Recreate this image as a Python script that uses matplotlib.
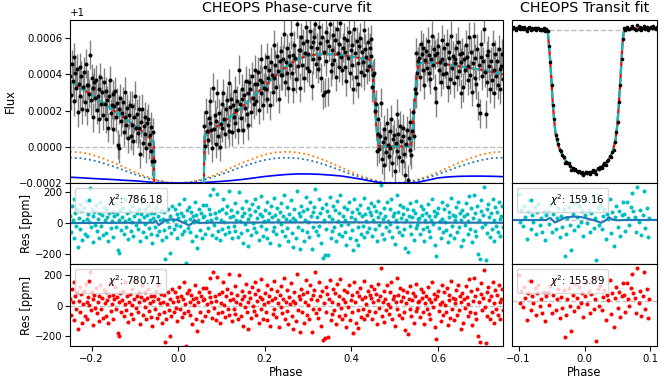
import numpy as np
import matplotlib
matplotlib.use("Agg")
import matplotlib.pyplot as plt

# ---- observed points: phase (x1e-4), flux - 1 (ppm), residuals (ppm) ----
phase_e4 = [
    # before transit
    -2497, -2478, -2457, -2438, -2418, -2399, -2377, -2358, -2338, -2319,
    -2298, -2279, -2258, -2238, -2219, -2198, -2179, -2158, -2139, -2118,
    -2099, -2078, -2059, -2038, -2019, -1998, -1979, -1958, -1939, -1918,
    -1899, -1878, -1859, -1838, -1819, -1798, -1779, -1758, -1739, -1718,
    -1699, -1678, -1659, -1638, -1619, -1598, -1579, -1558, -1539, -1518,
    -1499, -1478, -1459, -1438, -1419, -1398, -1379, -1358, -1339, -1318,
    -1299, -1278, -1259, -1238, -1219, -1198, -1179, -1158, -1139, -1118,
    -1099, -1078, -1059, -1038, -1019, -998, -979, -958, -939, -918,
    -899, -878, -859, -838, -819, -798, -779, -758, -739, -718,
    -699, -678, -659, -638, -619, -598, -579,
    # transit
    -558, -539, -518, -499, -478, -459, -438, -419, -398, -379,
    -358, -339, -318, -299, -278, -259, -238, -219, -198, -179,
    -158, -139, -118, -99, -78, -59, -38, -19, 2, 21,
    42, 61, 82, 101, 122, 141, 162, 181, 202, 221,
    242, 261, 282, 301, 322, 341, 362, 381, 402, 421,
    442, 461, 482, 501, 522, 541, 562, 581,
    # dayside
    602, 621, 642, 661, 682, 701, 722, 741, 762, 781,
    802, 821, 842, 861, 882, 901, 922, 941, 962, 981,
    1002, 1021, 1042, 1061, 1082, 1101, 1122, 1141, 1162, 1181,
    1202, 1221, 1242, 1261, 1282, 1301, 1322, 1341, 1362, 1381,
    1402, 1421, 1442, 1461, 1482, 1501, 1522, 1541, 1562, 1581,
    1602, 1621, 1642, 1661, 1682, 1701, 1722, 1741, 1762, 1781,
    1802, 1821, 1842, 1861, 1882, 1901, 1922, 1941, 1962, 1981,
    2002, 2021, 2042, 2061, 2082, 2101, 2122, 2141, 2162, 2181,
    2202, 2221, 2242, 2261, 2282, 2301, 2322, 2341, 2362, 2381,
    2402, 2421, 2442, 2461, 2482, 2501, 2522, 2541, 2562, 2581,
    2602, 2621, 2642, 2661, 2682, 2701, 2722, 2741, 2762, 2781,
    2802, 2821, 2842, 2861, 2882, 2901, 2922, 2941, 2962, 2981,
    3002, 3021, 3042, 3061, 3082, 3101, 3122, 3141, 3162, 3181,
    3202, 3221, 3242, 3261, 3282, 3301, 3322, 3341, 3362, 3381,
    3402, 3421, 3442, 3461, 3482, 3501, 3522, 3541, 3562, 3581,
    3602, 3621, 3642, 3661, 3682, 3701, 3722, 3741, 3762, 3781,
    3802, 3821, 3842, 3861, 3882, 3901, 3922, 3941, 3962, 3981,
    4002, 4021, 4042, 4061, 4082, 4101, 4122, 4141, 4162, 4181,
    4202, 4221, 4242, 4261, 4282, 4301, 4322, 4341, 4362, 4381,
    4402, 4421, 4440,
    # occultation
    4461, 4482, 4501, 4522, 4541, 4562, 4581, 4602, 4621, 4642,
    4661, 4682, 4701, 4722, 4741, 4762, 4781, 4802, 4821, 4842,
    4861, 4882, 4901, 4922, 4941, 4962, 4981, 5002, 5021, 5042,
    5061, 5082, 5101, 5122, 5141, 5162, 5181, 5202, 5221, 5242,
    5261, 5282, 5301, 5322, 5341, 5362, 5381, 5402, 5421, 5442,
    5461, 5482, 5501, 5522, 5541,
    # after occultation
    5562, 5581, 5602, 5621, 5642, 5661, 5682, 5701, 5722, 5741,
    5762, 5781, 5802, 5821, 5842, 5861, 5882, 5901, 5922, 5941,
    5962, 5981, 6002, 6021, 6042, 6061, 6082, 6101, 6122, 6141,
    6162, 6181, 6202, 6221, 6242, 6261, 6282, 6301, 6322, 6341,
    6362, 6381, 6402, 6421, 6442, 6461, 6482, 6501, 6522, 6541,
    6562, 6581, 6602, 6621, 6642, 6661, 6682, 6701, 6722, 6741,
    6762, 6781, 6802, 6821, 6842, 6861, 6882, 6901, 6922, 6941,
    6962, 6981, 7002, 7021, 7042, 7061, 7082, 7101, 7122, 7141,
    7162, 7181, 7202, 7221, 7242, 7261, 7282, 7301, 7322, 7341,
    7362, 7381, 7402, 7421, 7442, 7461, 7482, 7498,
]

flux_ppm = [
    390, 285, 455, 365, 250, 495, 405, 325, 430, 190,
    348, 438, 278, 393, 208, 328, 413, 248, 458, 343,
    202, 342, 292, 507, 257, 377, 162, 327, 357, 272,
    370, 205, 280, 155, 320, 385, 235, 305, 175, 355,
    236, 156, 306, 256, 106, 281, 366, 186, 231, 291,
    97, 227, 307, 162, 242, 12, 207, -8, 267, 142,
    188, 248, 83, 163, 303, 123, 213, 48, 178, 228,
    62, 227, 122, 32, 162, 282, 102, 182, 77, 207,
    101, -39, 136, 211, 21, 116, 71, 166, -9, 131,
    155, 15, 65, -25, 110, -80, 80,
    -80, -1125, -2255, -3840, -5260, -6220, -7315, -7605, -7945, -8390,
    -8475, -8745, -8860, -9295, -9270, -9280, -9325, -9550, -9805, -9640,
    -9815, -9710, -9870, -9970, -9870, -10005, -9955, -10120, -10000, -9910,
    -10040, -9935, -10055, -9905, -9780, -9960, -9850, -10080, -9690, -9755,
    -9570, -9650, -9475, -9340, -9440, -9190, -9095, -8815, -8865, -8570,
    -8385, -7850, -7160, -6465, -5050, -3880, -2035, -605,
    115, 5, 190, 85, 40, 160, 252, 130, 95, -5,
    326, 96, 176, 16, 141, 296, 61, 186, 1, 126,
    236, 106, 296, 151, 71, 206, 256, 121, 351, 86,
    219, 264, 84, 229, 164, 309, 129, 204, 254, 94,
    425, 235, 160, 320, 265, 95, 285, 215, 365, 180,
    295, 120, 355, 320, 190, 390, 270, 235, 345, 425,
    255, 345, 415, 205, 370, 295, 485, 360, 230, 325,
    440, 320, 495, 265, 380, 425, 230, 470, 395, 305,
    564, 379, 454, 329, 499, 419, 264, 474, 394, 529,
    394, 484, 624, 359, 469, 409, 544, 324, 499, 454,
    620, 410, 505, 320, 560, 490, 375, 680, 445, 535,
    326, 536, 606, 451, 571, 381, 516, 661, 436, 586,
    512, 417, 637, 552, 337, 577, 482, 607, 680, 457,
    546, 431, 661, 491, 571, 381, 606, 286, 526, 301,
    631, 471, 586, 306, 556, 676, 416, 536, 456, 616,
    478, 588, 388, 648, 518, 438, 568, 683, 493, 423,
    547, 602, 442, 522, 362, 587, 492, 632, 407, 537,
    449, 564, 317, 649, 519, 384, 584, 464, 349, 554,
    601, 411, 526, 466, 646, 396, 541, 496, 426, 581,
    445, 548, 595,
    500, 330, 398, 410, 195, 235, -25, 70, 155, -10,
    62, 242, -68, 27, 97, -103, 47, -28, 132, 12,
    -53, 87, -8, 152, -88, 42, 67, -133, 22, 182,
    -23, 72, -58, 117, 32, -78, 57, 102, -38, -158,
    17, 92, -183, 47, -18, 135, -45, 85, 190, 60,
    320, 295, 520, 405, 473,
    492, 387, 567, 512, 422, 547, 342, 477, 527, 437,
    584, 409, 504, 374, 484, 614, 454, 539, 324, 509,
    245, 520, 555, 425, 470, 360, 590, 485, 400, 545,
    458, 408, 568, 328, 523, 488, 373, 613, 433, 503,
    351, 486, 461, 546, 386, 581, 416, 511, 296, 466,
    518, 328, 483, 423, 563, 493, 368, 448, 608, 398,
    525, 305, 460, 610, 380, 490, 345, 540, 230, 450,
    186, 496, 566, 391, 471, 651, 411, 181, 506, 356,
    531, 446, 321, 471, 371, 566, 426, 296, 511, 391,
    473, 343, 538, 428, 318, 448, 513, 373,
]

res_ppm = [
    45, -60, 110, 20, -95, 150, 60, -20, 85, -155,
    30, 120, -40, 75, -110, 10, 95, -70, 140, 25,
    -85, 55, 5, 220, -30, 90, -125, 40, 70, -15,
    115, -50, 25, -100, 65, 130, -20, 50, -80, 100,
    15, -65, 85, 35, -115, 60, 145, -35, 10, 70,
    -90, 40, 120, -25, 55, -175, 20, -195, 80, -45,
    35, 95, -70, 10, 150, -30, 60, -105, 25, 75,
    -55, 110, 5, -85, 45, 165, -15, 65, -40, 90,
    20, -120, 55, 130, -60, 35, -10, 85, -90, 50,
    105, -35, 15, -75, 60, -130, 30,
    60, -25, 95, -80, 40, 130, -55, 15, 75, -110,
    25, -45, 70, -235, -90, 10, 85, -30, -195, 40,
    -65, 110, 20, -40, 90, -15, 55, -100, 30, 120,
    -20, 65, -75, 45, 150, -50, 10, -260, 80, -35,
    100, -60, 25, 70, -120, 40, 5, 135, -85, 50,
    -165, 20, 90, -45, 60, -100, 35, 115,
    40, -70, 115, 10, -35, 85, 177, 55, 20, -80,
    215, -15, 65, -95, 30, 185, -50, 75, -110, 15,
    90, -40, 150, 5, -75, 60, 110, -25, 205, -60,
    35, 80, -100, 45, -20, 125, -55, 20, 70, -90,
    200, 10, -65, 95, 40, -130, 60, -10, 140, -45,
    25, -150, 85, 50, -80, 120, 0, -35, 75, 155,
    -60, 30, 100, -110, 55, -20, 170, 45, -85, 10,
    80, -40, 135, -95, 20, 65, -130, 110, 35, -55,
    160, -25, 50, -75, 95, 15, -140, 70, -10, 125,
    -50, 40, 180, -85, 25, -35, 100, -120, 55, 10,
    145, -65, 30, -155, 85, 15, -100, 205, -30, 60,
    -170, 40, 110, -45, 75, -115, 20, 165, -60, 90,
    5, -90, 130, 45, -170, 70, -25, 100, 215, -50,
    35, -80, 150, -20, 60, -130, 95, -225, 15, -210,
    120, -40, 75, -205, 45, 165, -95, 25, -55, 105,
    -30, 80, -120, 140, 10, -70, 60, 175, -15, -85,
    45, 100, -60, 20, -140, 85, -10, 130, -95, 35,
    -45, 70, -177, 155, 25, -110, 90, -30, -145, 60,
    115, -75, 40, -20, 160, -90, 55, 10, -60, 95,
    -35, 70, 125,
    50, -85, 20, 110, -40, 75, -120, 35, 140, -15,
    60, 240, -70, 25, 95, -105, 45, -30, 130, 10,
    -55, 85, -10, 150, -90, 40, 65, -135, 20, 180,
    -25, 70, -60, 115, 30, -80, 55, 100, -40, -160,
    15, 90, -185, 45, -20, 125, -70, 35, 80, -110,
    60, -35, 140, -15, 25,
    30, -75, 105, 50, -40, 85, -120, 15, 65, -25,
    120, -55, 40, -90, 20, 150, -10, 75, -140, 45,
    -215, 60, 95, -35, 10, -100, 130, 25, -60, 85,
    5, -45, 115, -125, 70, 35, -80, 160, -20, 50,
    -95, 40, 15, 100, -60, 135, -30, 65, -150, 20,
    80, -110, 45, -15, 125, 55, -70, 10, 170, -40,
    95, -125, 30, 180, -50, 60, -85, 110, -200, 20,
    -235, 75, 145, -30, 50, 230, -10, -240, 85, -65,
    120, 35, -90, 60, -40, 155, 15, -115, 100, -20,
    70, -60, 135, 25, -85, 45, 110, -30,
]
err_ppm = 80

# ---- best-fit model (phase, flux - 1 in ppm) ----
model_phase = [
    -0.25, -0.225, -0.2, -0.175, -0.15, -0.125, -0.1, -0.075, -0.0566,
    -0.0555, -0.0525, -0.0505, -0.0485, -0.0465, -0.044, -0.039, -0.0313,
    -0.0212, -0.011, 0.0015, 0.014, 0.024, 0.0344, 0.042, 0.047, 0.0495,
    0.0515, 0.0535, 0.0556, 0.0576, 0.0596, 0.0605,
    0.08, 0.1, 0.12, 0.14, 0.16, 0.18, 0.2, 0.22, 0.24, 0.26, 0.28, 0.3,
    0.32, 0.34, 0.36, 0.38, 0.4, 0.42, 0.44,
    0.445, 0.45, 0.455, 0.46, 0.465, 0.535, 0.54, 0.545, 0.55, 0.555,
    0.56, 0.58, 0.6, 0.62, 0.64, 0.66, 0.68, 0.7, 0.72, 0.74, 0.75,
]
model_ppm = [
    362, 325, 285, 245, 202, 160, 115, 70, 25,
    -233, -1867, -3267, -4900, -6067, -7233, -8167, -8983,
    -9567, -9917, -10033, -9917, -9683, -9217, -8633, -7700, -6767,
    -5600, -4200, -2567, -933, -117, 58,
    95, 130, 165, 205, 248, 292, 338, 382, 425, 462, 488, 503,
    510, 512, 510, 505, 498, 490, 482,
    470, 380, 200, 40, 2, 2, 40, 200, 380, 455,
    462, 465, 462, 455, 448, 440, 432, 425, 415, 405, 400,
]

# ---- model components (ppm) ----
comp_phase = [
    -0.25, -0.225, -0.2, -0.175, -0.15, -0.125, -0.1, -0.075, -0.05, -0.025,
    0.0, 0.025, 0.05, 0.075, 0.1, 0.125, 0.15, 0.175, 0.2, 0.225,
    0.25, 0.275, 0.3, 0.325, 0.35, 0.375, 0.4, 0.425, 0.45, 0.475,
    0.5, 0.525, 0.55, 0.575, 0.6, 0.625, 0.65, 0.675, 0.7, 0.725, 0.75,
]
comp_orange = [
    -27, -31, -43, -63, -87, -113, -140, -164, -183, -196,
    -200, -196, -183, -164, -140, -113, -87, -63, -43, -31,
    -27, -31, -43, -63, -87, -113, -140, -164, -183, -196,
    -200, -196, -183, -164, -140, -113, -87, -63, -43, -31, -27,
]
comp_bluedot = [
    -60, -63, -73, -89, -108, -130, -152, -171, -187, -197,
    -200, -197, -187, -171, -152, -130, -108, -89, -73, -63,
    -60, -63, -73, -89, -108, -130, -152, -171, -187, -197,
    -200, -197, -187, -171, -152, -130, -108, -89, -73, -63, -60,
]
comp_blue = [
    -168, -171, -175, -178, -181, -185, -188, -193, -198, -200,
    -200, -200, -199, -195, -191, -186, -180, -172, -164, -158,
    -153, -150, -150, -152, -156, -161, -170, -180, -192, -200,
    -200, -200, -198, -185, -172, -166, -163, -162, -162, -163, -165,
]

# ---- correlated-noise term in residual panel (ppm) ----
gp_phase = [-0.25, -0.1, -0.058, -0.052, -0.045, -0.038, -0.028, -0.015, -0.004,
            0.006, 0.016, 0.025, 0.031, 0.037, 0.043, 0.05, 0.06, 0.2, 0.4, 0.6, 0.75]
gp_ppm = [-2, 0, 0, 14, -16, -2, 18, 22, 18, 8, -4, -18, -6, 18, 2, -2, 0, 2, 3, 1, 0]

chi2_pc = [786.18, 780.71]
chi2_tr = [159.16, 155.89]

plt.rcParams['xtick.labelsize'] = 7.3
plt.rcParams['ytick.labelsize'] = 7.3
plt.rcParams['xtick.major.pad'] = 2
plt.rcParams['ytick.major.pad'] = 2
plt.rcParams['axes.labelsize'] = 8.3
plt.rcParams['axes.labelpad'] = 1.5

phase = np.array(phase_e4) / 1e4
flux = 1 + np.array(flux_ppm) * 1e-6
res = np.array(res_ppm)
err = err_ppm * 1e-6
mph = np.array(model_phase)
mfl = 1 + np.array(model_ppm) * 1e-6
cph = np.array(comp_phase)
in_tr = (phase >= -0.1) & (phase <= 0.1)

fig = plt.figure(figsize=(6.64, 3.82), dpi=100)
L, LW = 70 / 664, 433 / 664
R, RW = 512 / 664, 145 / 664
rows = [(20, 183), (183, 264), (264, 346)]
def box(x0, w, r):
    top, bot = rows[r]
    return [x0, (382 - bot) / 382, w, (bot - top) / 382]

ax_pc = fig.add_axes(box(L, LW, 0))
ax_r1 = fig.add_axes(box(L, LW, 1))
ax_r2 = fig.add_axes(box(L, LW, 2))
ax_tr = fig.add_axes(box(R, RW, 0))
ax_t1 = fig.add_axes(box(R, RW, 1))
ax_t2 = fig.add_axes(box(R, RW, 2))

# phase-curve panel
ax_pc.errorbar(phase, flux, yerr=err, fmt='.', color='k', ecolor='grey', elinewidth=1, ms=3.8)
ax_pc.axhline(1, color='grey', ls='--', lw=1, alpha=0.5)
ax_pc.plot(cph, 1 + np.array(comp_orange) * 1e-6, ':', color='C1', lw=1.3)
ax_pc.plot(cph, 1 + np.array(comp_bluedot) * 1e-6, ':', color='C0', lw=1.3)
ax_pc.plot(cph, 1 + np.array(comp_blue) * 1e-6, '-', color='b', lw=1.2)
ax_pc.plot(mph, mfl, 'r-', lw=1.5)
ax_pc.plot(mph, mfl, 'c--', lw=1.5)
ax_pc.set_xlim(-0.25, 0.75)
ax_pc.set_ylim(1 - 0.0002, 1 + 0.0007)
ax_pc.set_yticks(1 + np.array([-2, 0, 2, 4, 6]) * 1e-4)
ax_pc.ticklabel_format(axis='y', useOffset=1.0)
ax_pc.tick_params(labelbottom=False)
ax_pc.set_ylabel("Flux")
ax_pc.set_title("CHEOPS Phase-curve fit", fontsize=10.3)

# transit panel
ax_tr.errorbar(phase, flux, yerr=err, fmt='.', color='k', ecolor='grey', elinewidth=1, ms=3.2)
ax_tr.axhline(1, color='grey', ls='--', lw=1, alpha=0.5)
ax_tr.plot(mph, mfl, 'r-', lw=1.6)
ax_tr.plot(mph, mfl, 'c--', lw=1.6)
ax_tr.set_xlim(-0.11, 0.11)
ax_tr.set_ylim(1 - 0.01071, 1 + 0.0007)
ax_tr.set_yticks([])
ax_tr.set_xticks([-0.1, 0.0, 0.1])
ax_tr.tick_params(labelbottom=False)
ax_tr.set_title("CHEOPS Transit fit", fontsize=10.3)

# residual panels
for ax, mask, chi2, lims in [(ax_r1, slice(None), chi2_pc[0], (-265, 255)),
                             (ax_t1, in_tr, chi2_tr[0], (-284, 239))]:
    ax.axhline(0, color='grey', ls='--', lw=1, alpha=0.5)
    ax.plot(phase[mask], res[mask], '.', color='c', ms=3.8, label=r"$\chi^2$: %.2f" % chi2)
    ax.plot(gp_phase, gp_ppm, '-', color='C0', lw=1.5)
    ax.set_ylim(*lims)
    ax.legend(loc='upper left', fontsize=7.3)
    ax.tick_params(labelbottom=False)

for ax, mask, chi2, lims in [(ax_r2, slice(None), chi2_pc[1], (-262, 269)),
                             (ax_t2, in_tr, chi2_tr[1], (-290, 239))]:
    ax.axhline(0, color='grey', ls='--', lw=1, alpha=0.5)
    ax.plot(phase[mask], res[mask], '.', color='r', ms=3.8, label=r"$\chi^2$: %.2f" % chi2)
    ax.set_ylim(*lims)
    ax.legend(loc='upper left', fontsize=7.3)
    ax.set_xlabel("Phase")

for ax in (ax_r1, ax_r2):
    ax.set_xlim(-0.25, 0.75)
    ax.set_yticks([-200, 0, 200])
    ax.set_ylabel("Res [ppm]")
for ax in (ax_t1, ax_t2):
    ax.set_xlim(-0.11, 0.11)
    ax.set_xticks([-0.1, 0.0, 0.1])
    ax.set_yticks([])

fig.savefig("out.png", dpi=100)
